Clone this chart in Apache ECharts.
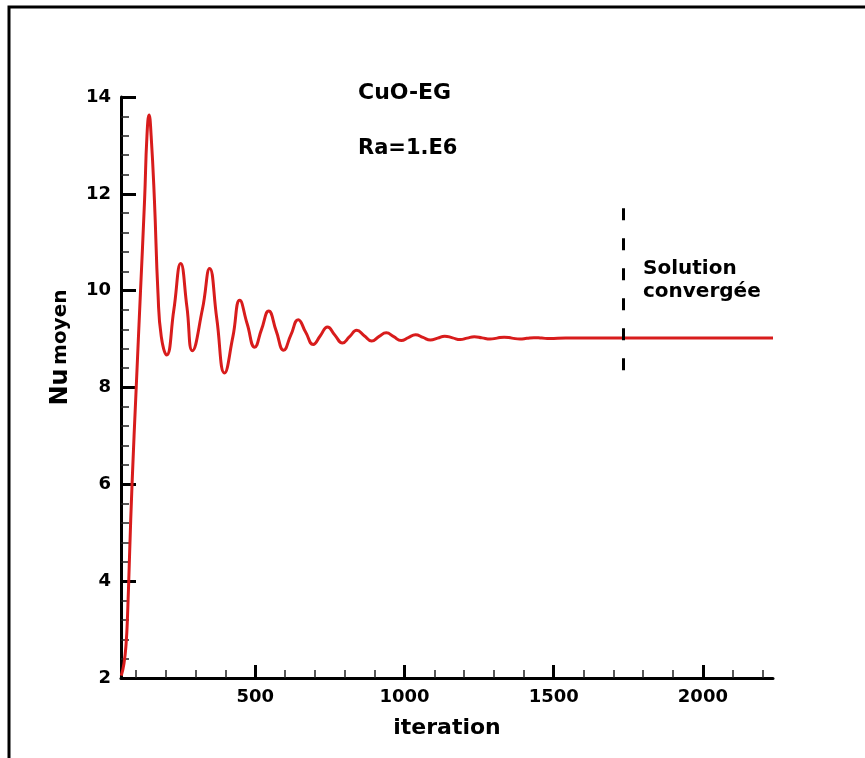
<!DOCTYPE html>
<html>
<head>
<meta charset="utf-8">
<title>Nu moyen - CuO-EG</title>
<script src="https://cdn.jsdelivr.net/npm/echarts@6/dist/echarts.min.js"></script>
<style>
  html, body { margin: 0; padding: 0; background: #fff; }
  #chart { width: 865px; height: 758px; }
</style>
</head>
<body>
<div id="chart"></div>
<script>
// values
var iterations = [
  51, 60, 67, 72, 79, 87, 101, 115, 129, 137, 144, 151, 162, 174, 185, 203,
  227, 250, 271, 289, 323, 347, 371, 397, 425, 448, 473, 498, 521, 545, 570,
  595, 619, 644, 669, 694, 718, 742, 767, 792, 816, 840, 865, 890, 914, 939,
  964, 989, 1013, 1037, 1062, 1087, 1111, 1135, 1161, 1187, 1210, 1234, 1260,
  1287, 1310, 1334, 1360, 1387, 1410, 1434, 1460, 1487, 1540, 1600, 1700,
  1800, 1900, 2000, 2100, 2235
];
var nuMoyen = [
  2.05, 2.3, 2.7, 3.3, 4.6, 6.0, 8.0, 9.94, 11.87, 13.2, 13.63, 13.2, 11.87,
  9.94, 9.05, 8.67, 9.6, 10.56, 9.66, 8.76, 9.62, 10.46, 9.42, 8.30, 9.05,
  9.80, 9.31, 8.83, 9.2, 9.58, 9.17, 8.77, 9.08, 9.40, 9.14, 8.89, 9.07, 9.25,
  9.08, 8.92, 9.05, 9.18, 9.07, 8.96, 9.05, 9.13, 9.05, 8.97, 9.03, 9.09,
  9.035, 8.98, 9.02, 9.06, 9.025, 8.99, 9.02, 9.05, 9.025, 9.0, 9.02, 9.04,
  9.02, 9.0, 9.015, 9.03, 9.02, 9.01, 9.02, 9.02, 9.02, 9.02, 9.02, 9.02,
  9.02, 9.02
];
var convergedAt = 1733;
var convergedSpan = [11.7, 8.32];
var xMajorTicks = [500, 1000, 1500, 2000];
var xMinorTicks = [100, 200, 300, 400, 600, 700, 800, 900, 1100, 1200, 1300,
  1400, 1600, 1700, 1800, 1900, 2100, 2200];

var chart = echarts.init(document.getElementById('chart'), null, { renderer: 'canvas' });
var font = '"DejaVu Sans", Verdana, sans-serif';

var option = {
  animation: false,
  backgroundColor: '#fff',
  grid: { left: 121, right: 92, top: 97, bottom: 80, containLabel: false, outerBoundsMode: 'none' },
  xAxis: [
    {
      type: 'value',
      position: 'bottom',
      min: 50,
      max: 2235,
      name: 'iteration',
      nameLocation: 'middle',
      nameGap: 39,
      nameTextStyle: { fontFamily: font, fontWeight: 'bold', fontSize: 22, color: '#000' },
      axisLine: { onZero: false, lineStyle: { color: '#000', width: 3 } },
      axisTick: { inside: true, length: 13, customValues: xMajorTicks, lineStyle: { color: '#000', width: 3 } },
      axisLabel: {
        customValues: xMajorTicks, margin: 10, fontFamily: font, fontWeight: 'bold', fontSize: 18, color: '#000',
        formatter: function (v) { return String(v); }
      },
      splitLine: { show: false }
    },
    {
      type: 'value',
      position: 'bottom',
      min: 50,
      max: 2235,
      axisLine: { show: false, onZero: false },
      axisTick: { inside: true, length: 8, customValues: xMinorTicks, lineStyle: { color: '#222', width: 1.5 } },
      axisLabel: { show: false },
      splitLine: { show: false }
    }
  ],
  yAxis: {
    type: 'value',
    min: 2,
    max: 14,
    interval: 2,
    name: '{a|Nu} {b|moyen}',
    nameLocation: 'middle',
    nameRotate: 90,
    nameGap: 48,
    nameTextStyle: {
      padding: [0, 0, 0, 80],
      rich: {
        a: { fontFamily: font, fontWeight: 'bold', fontSize: 24, color: '#000' },
        b: { fontFamily: font, fontWeight: 'bold', fontSize: 20, color: '#000' }
      }
    },
    axisLine: { onZero: false, lineStyle: { color: '#000', width: 3 } },
    axisTick: { inside: true, length: 15, lineStyle: { color: '#000', width: 3 } },
    minorTick: { show: true, splitNumber: 5, length: 8, lineStyle: { color: '#222', width: 1.5 } },
    axisLabel: { margin: 10, fontFamily: font, fontWeight: 'bold', fontSize: 18, color: '#000' },
    splitLine: { show: false },
    minorSplitLine: { show: false }
  },
  series: [
    {
      type: 'line',
      xAxisIndex: 0,
      data: iterations.map(function (it, i) { return [it, nuMoyen[i]]; }),
      showSymbol: false,
      smooth: 0.5,
      smoothConstraint: false,
      lineStyle: { color: '#d81c1c', width: 3 },
      markLine: {
        silent: true,
        symbol: ['none', 'none'],
        label: { show: false },
        lineStyle: { color: '#000', width: 3, type: [12, 18] },
        data: [[{ coord: [convergedAt, convergedSpan[0]] }, { coord: [convergedAt, convergedSpan[1]] }]]
      }
    }
  ],
  graphic: [
    {
      type: 'rect',
      silent: true,
      shape: { x: 9, y: 7, width: 1000, height: 1000 },
      style: { fill: 'none', stroke: '#000', lineWidth: 3 }
    },
    {
      type: 'text', left: 358, top: 82,
      style: { text: 'CuO-EG', fontFamily: font, fontWeight: 'bold', fontSize: 22, fill: '#000' }
    },
    {
      type: 'text', left: 358, top: 138,
      style: { text: 'Ra=1.E6', fontFamily: font, fontWeight: 'bold', fontSize: 21, fill: '#000' }
    },
    {
      type: 'text', left: 643, top: 257,
      style: { text: 'Solution\nconvergée', lineHeight: 23, fontFamily: font, fontWeight: 'bold', fontSize: 20, fill: '#000' }
    }
  ]
};

chart.setOption(option);
</script>
</body>
</html>
